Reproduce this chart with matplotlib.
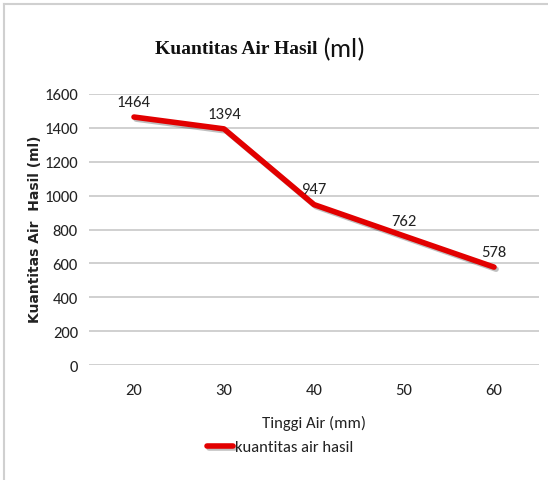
import matplotlib.pyplot as plt
import matplotlib.patheffects as pe
from matplotlib.lines import Line2D

# data
tinggi = ['20', '30', '40', '50', '60']
kuantitas = [1464, 1394, 947, 762, 578]
yticks = [0, 200, 400, 600, 800, 1000, 1200, 1400, 1600]

cal = ['Carlito', 'DejaVu Sans']
ink = '#222222'

W, H = 548, 481
fig = plt.figure(figsize=(W / 100, H / 100), dpi=100)
ax = fig.add_axes([89 / W, 1 - 366 / H, 450 / W, 271 / H])

x = list(range(len(tinggi)))
ax.plot(x, kuantitas, color='#e20000', lw=4, solid_capstyle='round',
        solid_joinstyle='round', label='kuantitas air hasil',
        path_effects=[pe.SimpleLineShadow(offset=(1.5, -1.5), alpha=0.25), pe.Normal()])

for xi, v in zip(x, kuantitas):
    ax.annotate(str(v), (xi, v), xytext=(0, 6), textcoords='offset points',
                ha='center', va='bottom', fontsize=12, family=cal, color=ink)

ax.set_xlim(-0.5, len(tinggi) - 0.5)
ax.set_ylim(0, 1600)
ax.set_yticks(yticks)
ax.set_xticks(x)
ax.set_xticklabels(tinggi)
ax.grid(axis='y', color='#c8c8c8', lw=1.2)
ax.set_axisbelow(True)
for s in ax.spines.values():
    s.set_visible(False)
ax.tick_params(length=0, labelsize=12, colors=ink)
ax.tick_params(axis='x', pad=13)
ax.tick_params(axis='y', pad=8)
for lab in ax.get_xticklabels() + ax.get_yticklabels():
    lab.set_family(cal)

ax.set_xlabel('Tinggi Air (mm)', fontsize=12, family=cal, color=ink, labelpad=13)
fig.text(35 / W, 1 - 229 / H, 'Kuantitas Air  Hasil (ml)', rotation=90, ha='center', va='center',
         fontsize=10, fontweight='bold', color=ink)

# title: serif part plus a sans "(ml)"
fig.text(322 / W, 1 - 50 / H, 'Kuantitas Air Hasil ', ha='right', va='center',
         fontsize=14, fontweight='bold', family='Liberation Serif', color='#111111')
fig.text(322 / W, 1 - 50 / H, '(ml)', ha='left', va='center', fontsize=19, family=cal,
         color='#111111')

fig.legend(loc='center', bbox_to_anchor=(280 / W, 1 - 448 / H), frameon=False,
           prop={'family': cal, 'size': 12}, handlelength=1.6, handletextpad=0.1,
           labelcolor=ink)

# chart border
fig.add_artist(Line2D([4 / W, 4 / W], [0, 1 - 5 / H], color='#d0d0d0', lw=1.5))
fig.add_artist(Line2D([4 / W, 1], [1 - 5 / H, 1 - 5 / H], color='#d0d0d0', lw=1.5))

fig.savefig('out.png', dpi=100)
